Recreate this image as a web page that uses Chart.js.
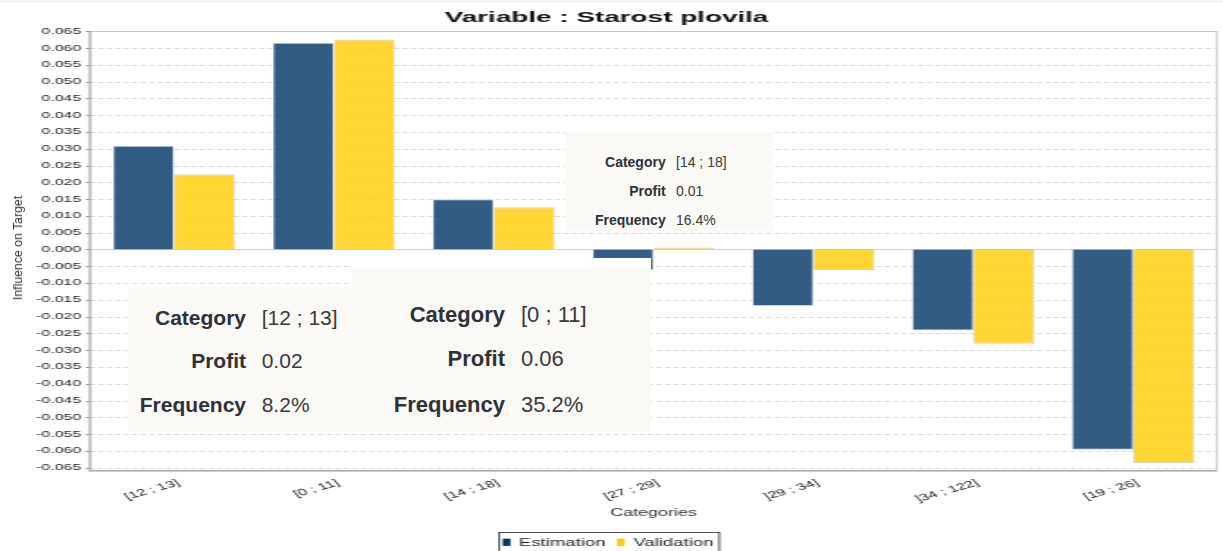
<!DOCTYPE html>
<html>
<head>
<meta charset="utf-8">
<title>Variable : Starost plovila</title>
<script src="https://cdn.jsdelivr.net/npm/chart.js@4/dist/chart.umd.min.js"></script>
<style>
  html, body { margin: 0; padding: 0; background: #fff; overflow: hidden; }
  #page { position: relative; width: 1223px; height: 551px; overflow: hidden; background: #fff; }
  #topband { position: absolute; left: 0; top: 0; width: 1223px; height: 3px; background: #f6f4ee; }
  /* the chart is drawn narrow and widened, which gives its text the wide look */
  #stage { position: absolute; left: 0; top: 0; width: 680px; height: 551px;
           transform-origin: 0 0; transform: scaleX(1.798529); }
  #yTitle { position: absolute; left: 18px; top: 248px; transform: translate(-50%, -50%) rotate(-90deg);
            font: 12.3px 'Liberation Sans', Arial, sans-serif; color: #333; white-space: nowrap; }
  .tip { position: absolute; font-family: 'Liberation Sans', Arial, sans-serif; color: #333; }
  .tip .fill { position: absolute; left: 0; right: 0; bottom: 0; background: #faf9f6; }
  .tip .k, .tip .v { position: absolute; line-height: 1; white-space: nowrap; transform: translateY(-50%); }
  .tip .k { font-weight: bold; text-align: right; color: #2f3138; }
  .tip .v { color: #3a3a3a; }
</style>
</head>
<body>
<div id="page">
  <div id="topband"></div>
  <div id="stage"><canvas id="chart"></canvas></div>
  <div id="yTitle">Influence on Target</div>
</div>
<script>
// ---- data ----
const categories = ['[12 ; 13]', '[0 ; 11]', '[14 ; 18]', '[27 ; 29]', ']29 ; 34]', ']34 ; 122]', '[19 ; 26]'];
const estimation = [0.0309, 0.0616, 0.0150, -0.0062, -0.0168, -0.0241, -0.0597];
const validation = [0.0224, 0.0626, 0.0126, 0.0006, -0.0062, -0.0281, -0.0637];
const seriesNames = ['Estimation', 'Validation'];
// pop-up summaries: which category, and its share of records
const tipIndex = [2, 0, 1];
const tipFrequency = [16.4, 8.2, 35.2];

// ---- look ----
const FONT = "'Liberation Sans', Arial, sans-serif";
const SX = 1223 / 680;              // horizontal widening of the stage
const INSET = 4 / SX;               // frame sits a little outside the category band
const COLORS = {
  estimation: '#003366', validation: '#ffcc00',
  estimationFill: 'rgba(0,51,102,0.8)', validationFill: 'rgba(255,204,0,0.8)',
  barEdge: '#cdd1d6', grid: '#dadada', zero: '#cfcfcf', frame: '#c8c8c8', axis: '#a3a3a3'
};
const LEGEND = { left: 277.5, top: 532, height: 21, font: 10.3, padL: 2, padR: 3.3, boxW: 4.3, boxH: 7.2, gap: 4.8, itemGap: 6.4 };
// pop-up boxes, in page pixels
const TIP_LAYOUT = [
  { left: 565, top: 132, width: 208, height: 99,  blank: 0,  size: 14, split: 100.7, valueAt: 111,   rows: [29.7, 58.7, 88] },
  { left: 128, top: 287, width: 224, height: 145, blank: 0,  size: 21, split: 118,   valueAt: 133.7, rows: [30, 73, 116.5] },
  { left: 352, top: 258, width: 299, height: 174, blank: 10, size: 22, split: 153,   valueAt: 169,   rows: [57, 101, 147] }
];

// frame, grid lines and y tick marks, drawn from the y scale
const framePlugin = {
  id: 'frame',
  beforeDatasetsDraw(chart) {
    const { ctx, chartArea: a } = chart;
    const ys = chart.scales.y;
    const L = a.left - INSET, R = a.right + INSET;
    ctx.save();
    ys.ticks.forEach(t => {
      const y = Math.round(ys.getPixelForValue(t.value)) + 0.5;
      ctx.beginPath();
      if (t.value === 0) { ctx.setLineDash([]); ctx.strokeStyle = COLORS.zero; }
      else { ctx.setLineDash([2.8, 1.9]); ctx.strokeStyle = COLORS.grid; }
      ctx.lineWidth = 1;
      ctx.moveTo(L, y); ctx.lineTo(R, y); ctx.stroke();
      ctx.setLineDash([]);
      ctx.strokeStyle = '#8f8f8f';
      ctx.beginPath(); ctx.moveTo(L - 2.3, y); ctx.lineTo(L, y); ctx.stroke();
    });
    ctx.strokeStyle = COLORS.frame; ctx.lineWidth = 1;
    ctx.beginPath();
    ctx.moveTo(L, a.top + 0.5); ctx.lineTo(R, a.top + 0.5);
    ctx.moveTo(R, a.top); ctx.lineTo(R, a.bottom);
    ctx.stroke();
    ctx.strokeStyle = COLORS.axis;
    ctx.lineWidth = 1.2;
    ctx.beginPath(); ctx.moveTo(L, a.top); ctx.lineTo(L, a.bottom + 1.5); ctx.stroke();
    ctx.lineWidth = 1.6;
    ctx.beginPath(); ctx.moveTo(L, a.bottom + 0.8); ctx.lineTo(R, a.bottom + 0.8); ctx.stroke();
    ctx.restore();
  }
};

// boxed legend under the axis title
const legendPlugin = {
  id: 'boxLegend',
  afterDraw(chart) {
    const { ctx } = chart;
    ctx.save();
    ctx.font = `${LEGEND.font}px ${FONT}`;
    const items = chart.data.datasets.map(ds => ({ text: ds.label, color: ds.legendColor, w: ctx.measureText(ds.label).width }));
    const total = LEGEND.padL + LEGEND.padR +
      items.reduce((s, it, i) => s + LEGEND.boxW + LEGEND.gap + it.w + (i ? LEGEND.itemGap : 0), 0);
    let x = LEGEND.left;
    const mid = LEGEND.top + 10.3;
    ctx.strokeStyle = '#2a2a2a'; ctx.lineWidth = 0.8;
    ctx.strokeRect(x, LEGEND.top + 0.5, total, LEGEND.height);
    x += LEGEND.padL;
    ctx.textBaseline = 'middle'; ctx.textAlign = 'left';
    items.forEach((it, i) => {
      if (i) x += LEGEND.itemGap;
      ctx.fillStyle = it.color;
      ctx.fillRect(x, mid - LEGEND.boxH / 2, LEGEND.boxW, LEGEND.boxH);
      x += LEGEND.boxW + LEGEND.gap;
      ctx.fillStyle = '#1e1e1e';
      ctx.fillText(it.text, x, mid + 0.5);
      x += it.w;
    });
    ctx.restore();
  }
};

new Chart(document.getElementById('chart'), {
  type: 'bar',
  data: {
    labels: categories,
    datasets: [
      { label: seriesNames[0], data: estimation, backgroundColor: COLORS.estimationFill, legendColor: COLORS.estimation,
        borderColor: COLORS.barEdge, borderWidth: { top: 1, bottom: 1, left: 0.6, right: 0.6 } },
      { label: seriesNames[1], data: validation, backgroundColor: COLORS.validationFill, legendColor: COLORS.validation,
        borderColor: COLORS.barEdge, borderWidth: { top: 1, bottom: 1, left: 0.6, right: 0.6 } }
    ]
  },
  options: {
    responsive: true,
    maintainAspectRatio: false,
    animation: false,
    devicePixelRatio: 1,
    layout: { padding: { top: 0, right: 680 - 1213 / SX, bottom: 21, left: 0 } },
    datasets: { bar: { categoryPercentage: 0.763, barPercentage: 1 } },
    plugins: {
      legend: { display: false },
      tooltip: { enabled: false },
      title: {
        display: true, text: 'Variable : Starost plovila', color: '#111',
        font: { family: FONT, size: 15.5, weight: 'bold', lineHeight: 1.2 },
        padding: { top: 8.2, bottom: 4.2 }
      }
    },
    scales: {
      x: {
        grid: { display: false, drawTicks: false, tickLength: 0 },
        border: { display: false },
        ticks: { color: '#222', font: { family: FONT, size: 9.2 }, minRotation: 27, maxRotation: 27,
                 padding: 7.5, labelOffset: 2.6, autoSkip: false },
        title: { display: true, text: 'Categories', color: '#333', font: { family: FONT, size: 10, lineHeight: 1.2 }, padding: { top: 0, bottom: 10.5 } },
        afterFit(s) { s.height = 60; }
      },
      y: {
        min: -0.0657, max: 0.0651,
        grid: { display: false, drawTicks: false, tickLength: 0 },
        border: { display: false },
        ticks: { stepSize: 0.005, includeBounds: false, color: '#222', font: { family: FONT, size: 8.8 }, padding: 7.2,
                 callback: v => (Math.abs(v) < 1e-9 ? 0 : v).toFixed(3) },
        afterFit(s) { s.width = 94 / SX; }
      }
    }
  },
  plugins: [framePlugin, legendPlugin]
});

// pop-up summary boxes
const page = document.getElementById('page');
TIP_LAYOUT.forEach((lay, n) => {
  const idx = tipIndex[n];
  const rows = [
    ['Category', categories[idx]],
    ['Profit', validation[idx].toFixed(2)],
    ['Frequency', tipFrequency[n].toFixed(1) + '%']
  ];
  const box = document.createElement('div');
  box.className = 'tip';
  Object.assign(box.style, { left: lay.left + 'px', top: lay.top + 'px', width: lay.width + 'px', height: lay.height + 'px',
                             background: '#fff', fontSize: lay.size + 'px' });
  const fill = document.createElement('div');
  fill.className = 'fill';
  fill.style.top = lay.blank + 'px';
  box.appendChild(fill);
  rows.forEach((r, i) => {
    const k = document.createElement('div');
    k.className = 'k';
    k.textContent = r[0];
    Object.assign(k.style, { right: (lay.width - lay.split) + 'px', top: lay.rows[i] + 'px' });
    const v = document.createElement('div');
    v.className = 'v';
    v.textContent = r[1];
    Object.assign(v.style, { left: lay.valueAt + 'px', top: lay.rows[i] + 'px' });
    box.appendChild(k); box.appendChild(v);
  });
  page.appendChild(box);
});
</script>
</body>
</html>
